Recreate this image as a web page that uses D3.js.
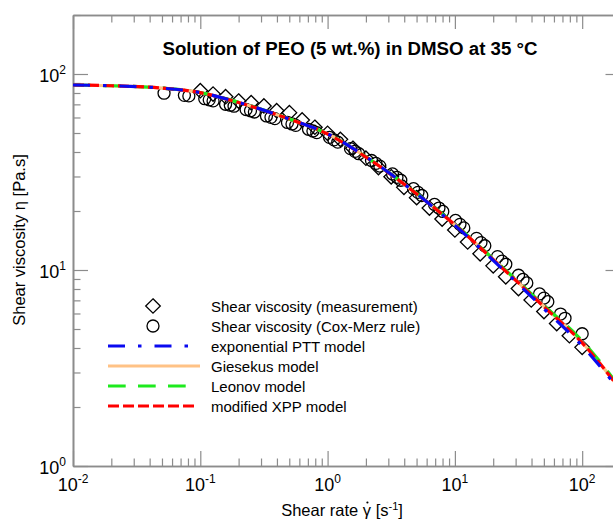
<!DOCTYPE html>
<html>
<head>
<meta charset="utf-8">
<script src="https://cdn.jsdelivr.net/npm/d3@7"></script>
<style>
  html, body { margin: 0; padding: 0; background: #fff; }
  svg { display: block; font-family: "Liberation Sans", Arial, sans-serif; }
</style>
</head>
<body>
<svg id="chart" width="613" height="519"></svg>
<script>
// ---------------- data ----------------
const titleText = "Solution of PEO (5 wt.%) in DMSO at 35 °C";
const xTickValues = [0.01, 0.1, 1, 10, 100];
const xTickExponents = ["-2", "-1", "0", "1", "2"];
const yTickValues = [1, 10, 100];
const yTickExponents = ["0", "1", "2"];

// measured shear viscosity (diamonds)
const rateMeasured = [0.1, 0.126, 0.158, 0.2, 0.251, 0.316, 0.398, 0.501, 0.631, 0.794,
  1, 1.26, 1.58, 2, 2.51, 3.16, 3.98, 5.01, 6.31, 7.94,
  10, 12.6, 15.8, 20, 25.1, 31.6, 39.8, 50.1, 63.1, 79.4, 100];
const etaMeasured = [82.2, 79.0, 76.6, 72.8, 71.4, 68.7, 65.0, 63.5, 58.3, 53.5,
  49.8, 46.4, 41.8, 37.2, 33.3, 29.9, 26.4, 23.4, 20.7, 18.2,
  16.0, 13.9, 12.1, 10.5, 9.23, 8.04, 7.03, 6.14, 5.33, 4.62, 4.03];

// Cox-Merz rule (circles)
const rateCoxMerz = [0.0519, 0.075, 0.0813,
  0.1084, 0.1175, 0.126, 0.158, 0.172, 0.184, 0.229, 0.248, 0.266,
  0.331, 0.359, 0.385, 0.484, 0.525, 0.562, 0.708, 0.767, 0.822,
  1.035, 1.122, 1.202, 1.514, 1.641, 1.758, 2.213, 2.399, 2.57,
  3.236, 3.508, 3.758, 4.732, 5.129, 5.495, 6.918, 7.499, 8.035,
  10.12, 10.96, 11.75, 14.79, 16.03, 17.18, 21.63, 23.44, 25.12,
  31.62, 34.28, 36.73, 46.24, 50.12, 53.7, 67.6, 73.3, 100];
const etaCoxMerz = [79.8, 77.8, 77.3,
  74.8, 73.8, 72.9, 70.1, 69.3, 68.5, 65.9, 64.9, 64.0,
  61.1, 60.1, 59.2, 56.6, 55.6, 54.7, 52.2, 51.2, 50.2,
  47.5, 46.1, 44.9, 41.6, 40.3, 39.2, 36.2, 35.0, 33.9,
  30.9, 29.7, 28.7, 26.0, 24.9, 24.0, 21.6, 20.7, 19.9,
  17.9, 17.1, 16.4, 14.5, 13.8, 13.3, 11.7, 11.1, 10.7,
  9.40, 8.95, 8.59, 7.55, 7.19, 6.89, 5.96, 5.67, 4.73];

// model curves
const rateModel = [0.01, 0.02, 0.05, 0.1, 0.2, 0.5, 1, 2, 5, 10, 20, 50, 100, 200];
const etaPTT      = [87.9, 87.1, 84.7, 80.4, 71.6, 58.9, 49.5, 37.8, 24.5, 16.9, 11.2, 6.35, 4.10, 2.40];
const etaGiesekus = [87.9, 87.1, 84.7, 80.4, 71.6, 58.9, 49.5, 37.8, 24.5, 17.0, 11.35, 6.53, 4.27, 2.45];
const etaLeonov   = [87.9, 87.1, 84.8, 80.5, 71.7, 59.0, 49.5, 37.8, 24.6, 17.1, 11.4, 6.60, 4.35, 2.50];
const etaXPP      = [87.9, 87.1, 84.7, 80.3, 71.5, 58.9, 49.4, 37.7, 24.5, 17.0, 11.3, 6.50, 4.25, 2.45];

const legendLabels = ["Shear viscosity (measurement)", "Shear viscosity (Cox-Merz rule)",
  "exponential PTT model", "Giesekus model", "Leonov model", "modified XPP model"];

// ---------------- drawing ----------------
const svg = d3.select("#chart");
const FONT = '"Liberation Sans", Arial, sans-serif';
const axisColor = "#8c8c8c";

const x = d3.scaleLog().domain([0.01, 200]).range([73, 620.5]);
const y = d3.scaleLog().domain([1, 200]).range([466, 15]);
const [xl, xr] = x.range();
const [yb, yt] = y.range();

const minorX = [];
for (let e = -2; e <= 2; e++) for (let m = 2; m <= 9; m++) {
  const v = m * Math.pow(10, e);
  if (v <= 200) minorX.push(v);
}
const minorY = [];
for (let e = 0; e <= 2; e++) for (let m = 2; m <= 9; m++) {
  const v = m * Math.pow(10, e);
  if (v <= 200) minorY.push(v);
}

function styleAxis(g) {
  g.select(".domain").attr("stroke", axisColor).attr("stroke-width", 1.6);
  g.selectAll(".tick line").attr("stroke", axisColor).attr("stroke-width", 1.2);
  g.selectAll(".tick text").remove();
}

// bottom
svg.append("g").attr("transform", `translate(0,${yb})`)
  .call(d3.axisBottom(x).tickValues(xTickValues).tickSizeInner(-15).tickSizeOuter(0).tickFormat(""))
  .call(styleAxis);
svg.append("g").attr("transform", `translate(0,${yb})`)
  .call(d3.axisBottom(x).tickValues(minorX).tickSizeInner(-7.5).tickSizeOuter(0).tickFormat(""))
  .call(styleAxis);
// top
svg.append("g").attr("transform", `translate(0,${yt})`)
  .call(d3.axisTop(x).tickValues(xTickValues).tickSizeInner(-14).tickSizeOuter(0).tickFormat(""))
  .call(styleAxis);
svg.append("g").attr("transform", `translate(0,${yt})`)
  .call(d3.axisTop(x).tickValues(minorX).tickSizeInner(-7.5).tickSizeOuter(0).tickFormat(""))
  .call(styleAxis);
// left
svg.append("g").attr("transform", `translate(${xl},0)`)
  .call(d3.axisLeft(y).tickValues(yTickValues).tickSizeInner(-15).tickSizeOuter(0).tickFormat(""))
  .call(styleAxis);
svg.append("g").attr("transform", `translate(${xl},0)`)
  .call(d3.axisLeft(y).tickValues(minorY).tickSizeInner(-7.5).tickSizeOuter(0).tickFormat(""))
  .call(styleAxis);
// right
svg.append("g").attr("transform", `translate(${xr},0)`)
  .call(d3.axisRight(y).tickValues(yTickValues).tickSizeInner(-15).tickSizeOuter(0).tickFormat(""))
  .call(styleAxis);
svg.append("g").attr("transform", `translate(${xr},0)`)
  .call(d3.axisRight(y).tickValues(minorY).tickSizeInner(-7.5).tickSizeOuter(0).tickFormat(""))
  .call(styleAxis);

// tick labels with superscripts
xTickValues.forEach((v, i) => {
  const t = svg.append("text").attr("x", x(v)).attr("y", yb + 25)
    .attr("text-anchor", "middle").attr("font-family", FONT).attr("font-size", 18).attr("fill", "#000");
  t.append("tspan").text("10");
  t.append("tspan").attr("font-size", 12).attr("dy", -8).text(xTickExponents[i]);
});
yTickValues.forEach((v, i) => {
  const t = svg.append("text").attr("x", xl - 7).attr("y", y(v) + 7.5)
    .attr("text-anchor", "end").attr("font-family", FONT).attr("font-size", 18).attr("fill", "#000");
  t.append("tspan").text("10");
  t.append("tspan").attr("font-size", 12).attr("dy", -8).text(yTickExponents[i]);
});

// title
svg.append("text").attr("x", 350).attr("y", 55).attr("text-anchor", "middle")
  .attr("font-family", FONT).attr("font-size", 18.7).attr("font-weight", "bold").text(titleText);

// axis titles
const xt = svg.append("text").attr("x", 342).attr("y", 516).attr("text-anchor", "middle")
  .attr("font-family", FONT).attr("font-size", 16.5);
xt.append("tspan").text("Shear rate ");
const gammaSpan = xt.append("tspan").text("\u03B3");
xt.append("tspan").text(" [s");
xt.append("tspan").attr("font-size", 11).attr("dy", -6).text("-1");
xt.append("tspan").attr("dy", 6).text("]");
// dot above gamma (gamma-dot)
{
  const n = gammaSpan.node();
  const ext = n.getExtentOfChar(0);
  svg.append("circle").attr("cx", ext.x + ext.width / 2 + 0.5).attr("cy", 516 - 13.5)
    .attr("r", 1.1).attr("fill", "#000");
}

svg.append("text").attr("transform", "translate(25,240) rotate(-90)").attr("text-anchor", "middle")
  .attr("font-family", FONT).attr("font-size", 16.5).text("Shear viscosity \u03B7 [Pa.s]");

// clip
svg.append("clipPath").attr("id", "plotclip").append("rect")
  .attr("x", xl).attr("y", yt).attr("width", xr - xl).attr("height", yb - yt);
const plot = svg.append("g").attr("clip-path", "url(#plotclip)");

// markers
const diamondPath = "M0,-7.2 L7.3,0 L0,7.2 L-7.3,0 Z";
plot.append("g").selectAll("path").data(rateMeasured.map((r, i) => [r, etaMeasured[i]]))
  .join("path").attr("d", diamondPath)
  .attr("transform", d => `translate(${x(d[0])},${y(d[1])})`)
  .attr("fill", "none").attr("stroke", "#000").attr("stroke-width", 1.3);
plot.append("g").selectAll("circle").data(rateCoxMerz.map((r, i) => [r, etaCoxMerz[i]]))
  .join("circle").attr("cx", d => x(d[0])).attr("cy", d => y(d[1])).attr("r", 6)
  .attr("fill", "none").attr("stroke", "#000").attr("stroke-width", 1.3);

// model lines
const models = [
  { eta: etaGiesekus, color: "#FFC285", dash: null },
  { eta: etaLeonov, color: "#1EEA1E", dash: "17.7,12.3" },
  { eta: etaXPP, color: "#FF0000", dash: "11,4" },
  { eta: etaPTT, color: "#0A0AF0", dash: "17,13,3.5,13" }
];
const line = d3.line().x(d => x(d[0])).y(d => y(d[1])).curve(d3.curveMonotoneX);
models.forEach(m => {
  plot.append("path").datum(rateModel.map((r, i) => [r, m.eta[i]]))
    .attr("d", line).attr("fill", "none").attr("stroke", m.color).attr("stroke-width", 3.2)
    .attr("stroke-dasharray", m.dash);
});

// legend
const lg = svg.append("g");
const rowY = [306, 326, 346, 366, 386, 406];
lg.append("path").attr("d", diamondPath).attr("transform", `translate(153,${rowY[0]})`)
  .attr("fill", "none").attr("stroke", "#000").attr("stroke-width", 1.3);
lg.append("circle").attr("cx", 153).attr("cy", rowY[1]).attr("r", 6)
  .attr("fill", "none").attr("stroke", "#000").attr("stroke-width", 1.3);
const legendModels = [
  { color: "#0A0AF0", dash: "17,13,3.5,13", end: 194 },
  { color: "#FFC285", dash: null, end: 200 },
  { color: "#1EEA1E", dash: "17.7,12.3", end: 194 },
  { color: "#FF0000", dash: "11,4", end: 194 }
];
legendModels.forEach((m, i) => {
  lg.append("line").attr("x1", 108).attr("x2", m.end).attr("y1", rowY[i + 2]).attr("y2", rowY[i + 2])
    .attr("stroke", m.color).attr("stroke-width", 3.2).attr("stroke-dasharray", m.dash);
});
legendLabels.forEach((txt, i) => {
  lg.append("text").attr("x", 211).attr("y", rowY[i] + 5.5).attr("font-family", FONT)
    .attr("font-size", 15).attr("fill", "#000").text(txt);
});
</script>
</body>
</html>
